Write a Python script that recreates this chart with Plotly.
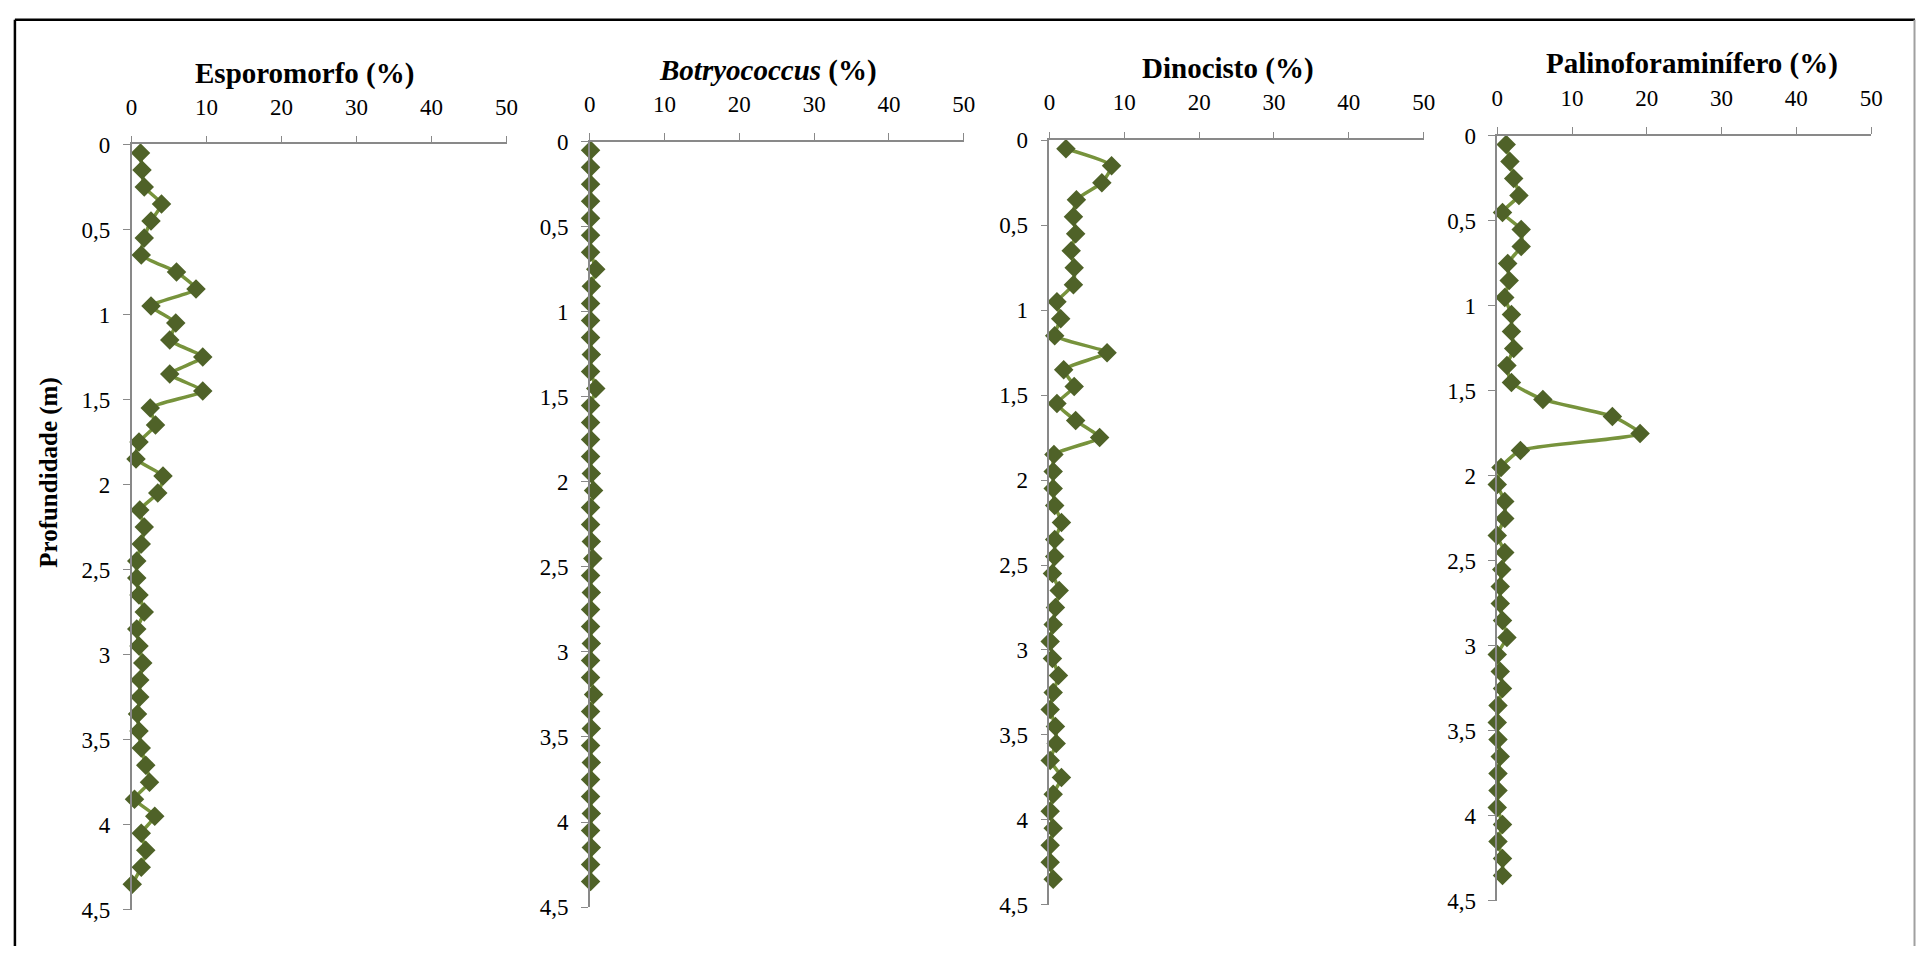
import plotly.graph_objects as go

W, H = 1928, 959

depth = [0.05, 0.15, 0.25, 0.35, 0.45, 0.55, 0.65, 0.75, 0.85, 0.95,
         1.05, 1.15, 1.25, 1.35, 1.45, 1.55, 1.65, 1.75, 1.85, 1.95,
         2.05, 2.15, 2.25, 2.35, 2.45, 2.55, 2.65, 2.75, 2.85, 2.95,
         3.05, 3.15, 3.25, 3.35, 3.45, 3.55, 3.65, 3.75, 3.85, 3.95,
         4.05, 4.15, 4.25, 4.35]

esporomorfo = [1.2, 1.4, 1.7, 4.0, 2.6, 1.7, 1.3, 6.0, 8.6, 2.6,
               5.9, 5.1, 9.5, 5.1, 9.5, 2.5, 3.2, 1.0, 0.6, 4.2,
               3.5, 1.1, 1.7, 1.3, 0.7, 0.7, 1.0, 1.7, 0.7, 1.0,
               1.5, 1.1, 1.1, 0.8, 1.0, 1.3, 1.9, 2.4, 0.4, 3.1,
               1.3, 1.9, 1.3, 0.1]

botryococcus = [0.1, 0.1, 0.1, 0.1, 0.1, 0.1, 0.1, 0.8, 0.2, 0.1,
                0.1, 0.1, 0.2, 0.1, 0.8, 0.1, 0.1, 0.1, 0.1, 0.2,
                0.5, 0.1, 0.1, 0.2, 0.4, 0.1, 0.2, 0.1, 0.1, 0.2,
                0.1, 0.1, 0.5, 0.1, 0.2, 0.1, 0.2, 0.1, 0.1, 0.2,
                0.1, 0.2, 0.1, 0.1]

dinocisto = [2.2, 8.3, 7.0, 3.6, 3.2, 3.5, 2.9, 3.3, 3.2, 1.0,
             1.5, 0.7, 7.7, 1.9, 3.3, 1.0, 3.5, 6.7, 0.6, 0.5,
             0.5, 0.7, 1.6, 0.7, 0.7, 0.4, 1.3, 0.8, 0.5, 0.1,
             0.4, 1.2, 0.5, 0.1, 0.8, 0.9, 0.1, 1.6, 0.5, 0.1,
             0.5, 0.1, 0.1, 0.5]

palinoforaminifero = [1.2, 1.7, 2.2, 2.9, 0.7, 3.2, 3.2, 1.4, 1.6, 1.0,
                      1.9, 1.9, 2.2, 1.3, 1.9, 6.1, 15.4, 19.1, 3.1, 0.5,
                      0.0, 1.0, 1.0, 0.0, 1.0, 0.6, 0.4, 0.4, 0.7, 1.3,
                      0.0, 0.4, 0.7, 0.1, 0.0, 0.1, 0.4, 0.1, 0.1, 0.0,
                      0.7, 0.1, 0.7, 0.7]

titles = ["<b>Esporomorfo (%)</b>",
          "<b><i>Botryococcus</i> (%)</b>",
          "<b>Dinocisto (%)</b>",
          "<b>Palinoforaminífero (%)</b>"]
y_title = "<b>Profundidade (m)</b>"

x_ticks = [0, 10, 20, 30, 40, 50]
x_tick_labels = ["0", "10", "20", "30", "40", "50"]
y_ticks = [0, 0.5, 1, 1.5, 2, 2.5, 3, 3.5, 4, 4.5]
y_tick_labels = ["0", "0,5", "1", "1,5", "2", "2,5", "3", "3,5", "4", "4,5"]

series = [esporomorfo, botryococcus, dinocisto, palinoforaminifero]

# panel geometry in window pixels: (x_left, x_right, y_top, y_bottom)
panels = [(126.7, 505.3, 136.0, 921.7),
          (589.3, 966.7, 133.3, 919.0),
          (1053.3, 1431.0, 131.7, 916.7),
          (1505.3, 1882.7, 127.3, 912.7)]
title_pos = [(301.7, 63), (769, 60), (1234, 57.5), (1701.7, 53)]


def px(x):
    return x / W


def py(y):
    return 1 - y / H


LINE = "#77933C"
MARK = "#4F6228"
AX = "#898989"
FONT = "Liberation Serif, Times New Roman, DejaVu Serif, serif"

fig = go.Figure()
layout = dict(
    width=W, height=H,
    margin=dict(l=0, r=0, t=0, b=0),
    paper_bgcolor="white", plot_bgcolor="white",
    showlegend=False,
    font=dict(family=FONT, color="black", size=23),
)

for i, (vals, (xl, xr, yt, yb)) in enumerate(zip(series, panels)):
    n = "" if i == 0 else str(i + 1)
    fig.add_trace(go.Scatter(
        x=vals, y=depth, mode="lines+markers",
        xaxis="x" + n, yaxis="y" + n,
        line=dict(color=LINE, width=3.5, shape="spline", smoothing=0.5),
        marker=dict(symbol="diamond", size=15, color=MARK),
        cliponaxis=False,
    ))
    layout["xaxis" + n] = dict(
        domain=[px(xl), px(xr)], range=[0, 50], side="top",
        anchor="y" + n, tickvals=x_ticks, ticktext=x_tick_labels,
        showgrid=False, zeroline=False, showline=True, linecolor=AX,
        linewidth=1.5, ticks="outside", ticklen=7, tickcolor=AX, tickwidth=1.2,
        tickfont=dict(family=FONT, size=23, color="black"),
        ticklabelstandoff=12,
    )
    layout["yaxis" + n] = dict(
        domain=[py(yb), py(yt)], range=[4.5, 0],
        anchor="x" + n, tickvals=y_ticks, ticktext=y_tick_labels,
        showgrid=False, zeroline=False, showline=True, linecolor=AX,
        linewidth=1.5, ticks="outside", ticklen=7, tickcolor=AX, tickwidth=1.2,
        tickfont=dict(family=FONT, size=23, color="black"),
        ticklabelstandoff=8,
    )

annotations = []
for t, (cx, cy) in zip(titles, title_pos):
    annotations.append(dict(
        text=t, x=px(cx), y=py(cy), xref="paper", yref="paper",
        xanchor="center", yanchor="middle", showarrow=False,
        font=dict(family=FONT, size=29, color="black"),
    ))
annotations.append(dict(
    text=y_title, x=px(44), y=py(472.5), xref="paper", yref="paper",
    xanchor="center", yanchor="middle", showarrow=False, textangle=-90,
    font=dict(family=FONT, size=25, color="black"),
))
layout["annotations"] = annotations

layout["shapes"] = [
    dict(type="line", xref="paper", yref="paper",
         x0=px(9), x1=px(9), y0=0, y1=py(8),
         line=dict(color="black", width=2.5)),
    dict(type="line", xref="paper", yref="paper",
         x0=px(9), x1=px(1927), y0=py(8), y1=py(8),
         line=dict(color="black", width=2.5)),
    dict(type="line", xref="paper", yref="paper",
         x0=px(1926.5), x1=px(1926.5), y0=0, y1=py(8),
         line=dict(color="#a0a0a0", width=2)),
]

fig.update_layout(**layout)
fig.write_html("out.html")
